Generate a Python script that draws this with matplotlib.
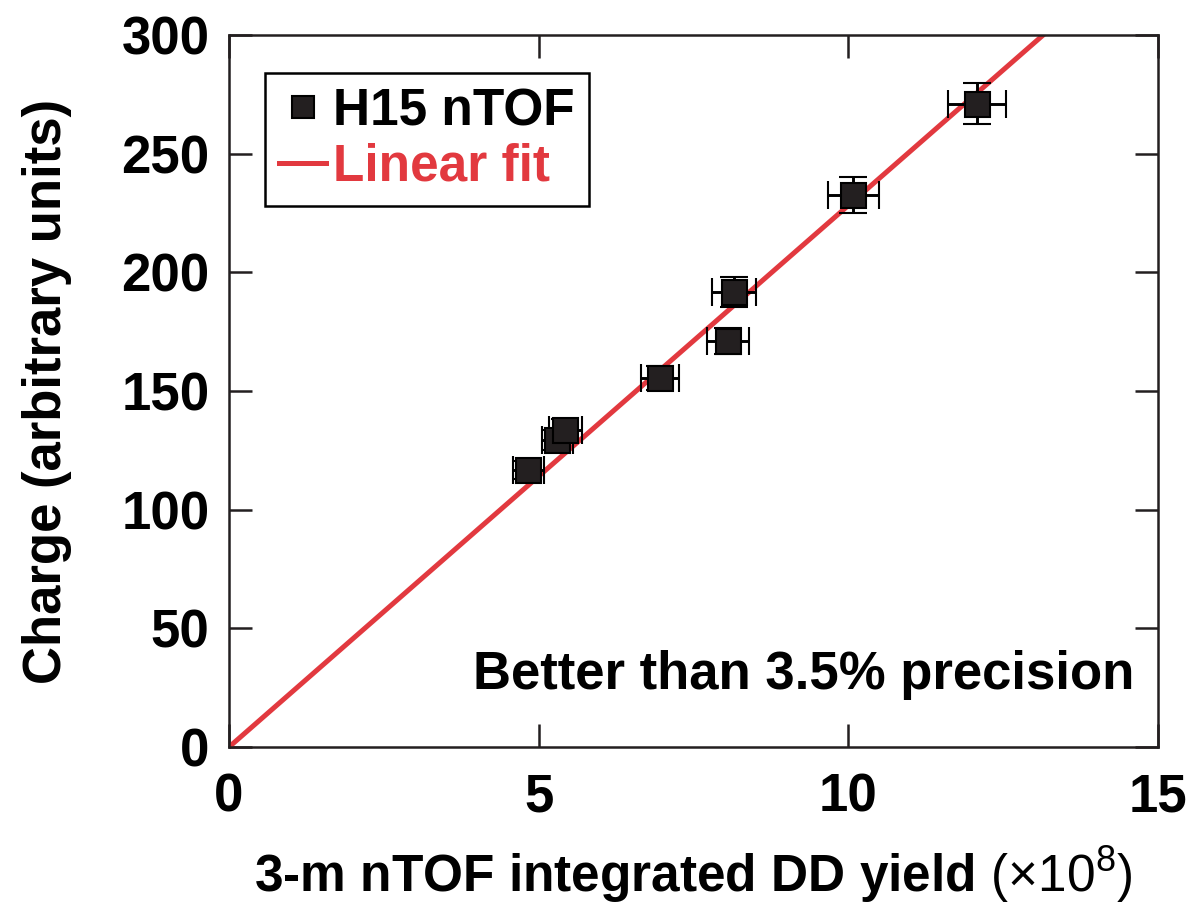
import numpy as np
import matplotlib.pyplot as plt

# data
yieldX = [4.83, 5.30, 5.43, 6.96, 8.06, 8.15, 10.08, 12.08]
chargeY = [116.7, 129.4, 133.6, 155.5, 171.1, 191.7, 232.6, 271.0]
xErr = [0.25, 0.25, 0.27, 0.31, 0.34, 0.355, 0.41, 0.47]
yErr = [3.9, 4.3, 4.4, 5.1, 5.5, 6.5, 7.6, 8.6]
fitSlope = 22.82
fitRange = [0, 15]

plt.rcParams['font.family'] = ['Liberation Sans', 'DejaVu Sans']
plt.rcParams['font.weight'] = 'bold'
plt.rcParams['mathtext.fontset'] = 'custom'
plt.rcParams['mathtext.rm'] = 'Liberation Sans:normal'
plt.rcParams['mathtext.it'] = 'Liberation Sans:italic:normal'
plt.rcParams['mathtext.bf'] = 'Liberation Sans:bold'

darkColor = '#231f20'
redColor = '#e2393f'

fig = plt.figure(figsize=(11.93, 9.08), dpi=100)
ax = fig.add_axes([0.192, 0.1773, 0.7787, 0.7842])

# linear fit through the origin
fitX = np.array(fitRange)
fitLine, = ax.plot(fitX, fitSlope * fitX, color=redColor, lw=3.6, zorder=2)

# measured points with error bars
eb = ax.errorbar(yieldX, chargeY, xerr=xErr, yerr=yErr, fmt='s', ms=18,
                 mfc=darkColor, mec='black', mew=1.5, ecolor='black', elinewidth=2.1,
                 capsize=10, capthick=2.1, zorder=3)

ax.set_xlim(0, 15)
ax.set_ylim(0, 300)
ax.set_xticks([0, 5, 10, 15])
ax.set_yticks(np.arange(0, 301, 50))

ax.tick_params(direction='in', length=16.5, width=1.8, color=darkColor,
               top=True, right=True, labelsize=38, pad=14)
ax.tick_params(axis='x', pad=18)
for sp in ax.spines.values():
    sp.set_linewidth(1.8)
    sp.set_color(darkColor)

ax.set_ylabel('Charge (arbitrary units)', fontsize=38, fontweight='bold')
ax.yaxis.set_label_coords(-0.1688, 0.5)
ax.set_xlabel(r'3-m nTOF integrated DD yield $(\times10^{8})$', fontsize=37, fontweight='bold')
ax.xaxis.set_label_coords(0.5, -0.137)

ax.text(0.975, 0.0815, 'Better than 3.5% precision', transform=ax.transAxes,
        ha='right', va='baseline', fontsize=38, fontweight='bold')

# legend: marker only for the data, text in series colour
leg = ax.legend([eb[0], fitLine], ['H15 nTOF', 'Linear fit'], loc='upper left',
                bbox_to_anchor=(0.0388, 0.9466), borderaxespad=0,
                fontsize=37, handlelength=0.9, handletextpad=0.15,
                labelspacing=0.12, borderpad=0.28, fancybox=False,
                edgecolor='black', framealpha=1,
                labelcolor=['black', redColor], markerscale=0.9)
leg.get_frame().set_linewidth(1.8)

plt.savefig('out.png', dpi=100)
